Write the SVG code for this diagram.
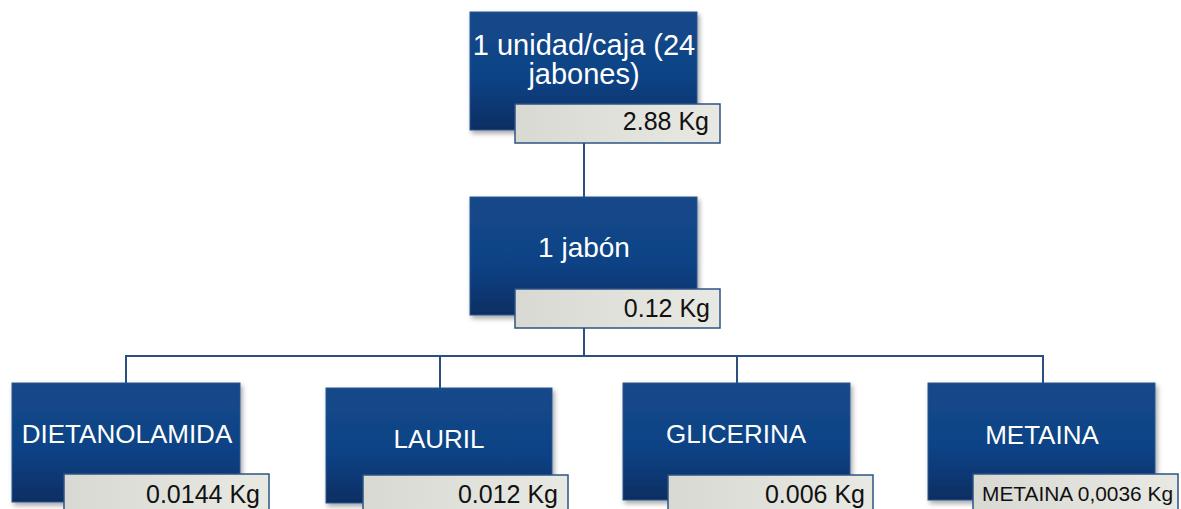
<svg xmlns="http://www.w3.org/2000/svg" width="1181" height="509" viewBox="0 0 1181 509">
<defs>
<linearGradient id="gBox" x1="0" y1="0" x2="0" y2="1">
<stop offset="0" stop-color="#134889"/>
<stop offset="0.55" stop-color="#104386"/>
<stop offset="1" stop-color="#0a2e63"/>
</linearGradient>
<linearGradient id="gLab" x1="0" y1="0" x2="1" y2="0">
<stop offset="0" stop-color="#d8d9d2"/>
<stop offset="1" stop-color="#e9e9e4"/>
</linearGradient>
<filter id="sh" x="-10%" y="-10%" width="125%" height="130%">
<feDropShadow dx="2" dy="3" stdDeviation="2.5" flood-color="#000" flood-opacity="0.35"/>
</filter>
</defs>
<style>
.box{fill:url(#gBox);stroke:#2b5690;stroke-width:1;filter:url(#sh)}
.lab{fill:url(#gLab);stroke:#2e5384;stroke-width:1.5}
.t{font-family:"Liberation Sans",Arial,sans-serif;fill:#ffffff;text-anchor:middle;font-size:26px}
.tl{font-size:29px}
.tm{font-size:28px}
.v{font-family:"Liberation Sans",Arial,sans-serif;fill:#111111;text-anchor:end;font-size:25px}
.vs{font-size:20.5px}
.c{fill:none;stroke:#2b4f80;stroke-width:2}
</style>
<rect width="1181" height="509" fill="#ffffff"/>
<g id="connectors">
<line class="c" x1="584" y1="143" x2="584" y2="197"/>
<polyline class="c" points="584,315 584,356"/>
<line class="c" x1="126" y1="356" x2="1043" y2="356"/>
<line class="c" x1="126" y1="355" x2="126" y2="383"/>
<line class="c" x1="440" y1="355" x2="440" y2="388"/>
<line class="c" x1="737" y1="355" x2="737" y2="383"/>
<line class="c" x1="1043" y1="355" x2="1043" y2="383"/>
</g>
<g id="node-caja">
<rect class="box" x="470" y="12" width="227" height="118"/>
<text class="t tl" x="584" y="55">1 unidad/caja (24</text>
<text class="t tl" x="584" y="84">jabones)</text>
<rect class="lab" x="515" y="104" width="205" height="39"/>
<text class="v" x="709" y="130">2.88 Kg</text>
</g>
<g id="node-jabon">
<rect class="box" x="470" y="197" width="227" height="118"/>
<text class="t tm" x="584" y="257">1 jabón</text>
<rect class="lab" x="515" y="289" width="205" height="39"/>
<text class="v" x="710" y="317">0.12 Kg</text>
</g>
<g id="node-dietanolamida">
<rect class="box" x="12" y="383" width="228" height="119"/>
<text class="t" x="127" y="443">DIETANOLAMIDA</text>
<rect class="lab" x="64" y="474" width="205" height="40"/>
<text class="v" x="260" y="503">0.0144 Kg</text>
</g>
<g id="node-lauril">
<rect class="box" x="326" y="388" width="226" height="115"/>
<text class="t" x="439" y="448">LAURIL</text>
<rect class="lab" x="363" y="475" width="205" height="40"/>
<text class="v" x="558" y="503">0.012 Kg</text>
</g>
<g id="node-glicerina">
<rect class="box" x="623" y="383" width="227" height="117"/>
<text class="t" x="736" y="443">GLICERINA</text>
<rect class="lab" x="668" y="475" width="205" height="40"/>
<text class="v" x="865" y="503">0.006 Kg</text>
</g>
<g id="node-metaina">
<rect class="box" x="928" y="383" width="227" height="117"/>
<text class="t" x="1042" y="444">METAINA</text>
<rect class="lab" x="973" y="474" width="205" height="40"/>
<text class="v vs" x="1173" y="501" textLength="191" lengthAdjust="spacingAndGlyphs">METAINA 0,0036 Kg</text>
</g>
</svg>
